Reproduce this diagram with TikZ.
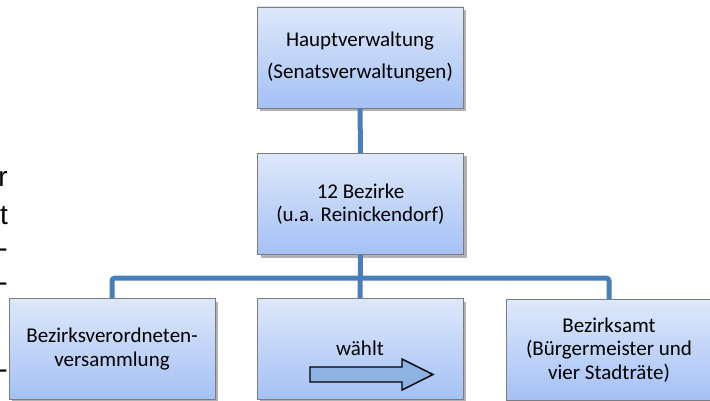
\documentclass[tikz,border=0pt]{standalone}
\usepackage{fontspec}
\setmainfont{Carlito}
\newfontfamily\fragfont{Liberation Sans}
\usetikzlibrary{shadows}
\definecolor{boxtop}{RGB}{222,232,251}
\definecolor{boxbottom}{RGB}{164,193,245}
\definecolor{boxline}{RGB}{125,125,125}
\definecolor{linkcol}{RGB}{74,126,187}
\definecolor{arrowcol}{RGB}{141,179,226}
\tikzset{
  orgbox/.style={draw=boxline,line width=0.8pt,top color=boxtop,bottom color=boxbottom,
    minimum width=206pt,minimum height=101pt,align=center,inner sep=0pt,
    font=\fontsize{21}{23.5}\selectfont,
    drop shadow={shadow xshift=3pt,shadow yshift=-3pt,opacity=0.3,fill=black}},
  link/.style={linkcol,line width=5pt},
  blockarrow/.style={draw=black,fill=arrowcol,line width=1.4pt,line join=miter},
  fragment/.style={anchor=base east,inner sep=0pt,font=\fragfont\fontsize{28}{34}\selectfont}
}

\begin{document}
\begin{tikzpicture}[x=1pt,y=-1pt]
  \useasboundingbox (0,0) rectangle (710,401);
  % Reste des Fliesstexts am linken Rand
  \node[fragment] (frag1) at (8,187) {r};
  \node[fragment] (frag2) at (8,224) {t};
  \node[fragment] (frag3) at (8,258) {-};
  \node[fragment] (frag4) at (8,291) {-};
  \node[fragment] (frag5) at (8,378) {-};
  % Ebenen
  \node[orgbox,font=\fontsize{21}{32}\selectfont] (haupt) at (360,57.5)
    {Hauptverwaltung\\(Senatsverwaltungen)};
  \node[orgbox] (bezirke) at (360.5,204) {12 Bezirke\\(u.a. Reinickendorf)};
  \node[orgbox] (bvv) at (112,349) {Bezirksverordneten-\\versammlung};
  \node[orgbox] (mitte) at (360,349) {};
  \node[orgbox] (amt) at (609,350) {Bezirksamt\\(Bürgermeister und\\vier Stadträte)};
  \node[font=\fontsize{21}{23.5}\selectfont,inner sep=0pt] (waehlt) at (360,348) {wählt};
  \draw[blockarrow] (310,367) -- (402,367) -- (402,359) -- (433,374.5)
    -- (402,390) -- (402,382) -- (310,382) -- cycle;
  % Verbindungen
  \coordinate (bus) at (360,278);
  \draw[link] (haupt) -- (bezirke);
  \draw[link] (bezirke) -- (mitte);
  \draw[link,rounded corners=3pt] (bvv.north) |- (bus) -| (amt.north);
\end{tikzpicture}
\end{document}
